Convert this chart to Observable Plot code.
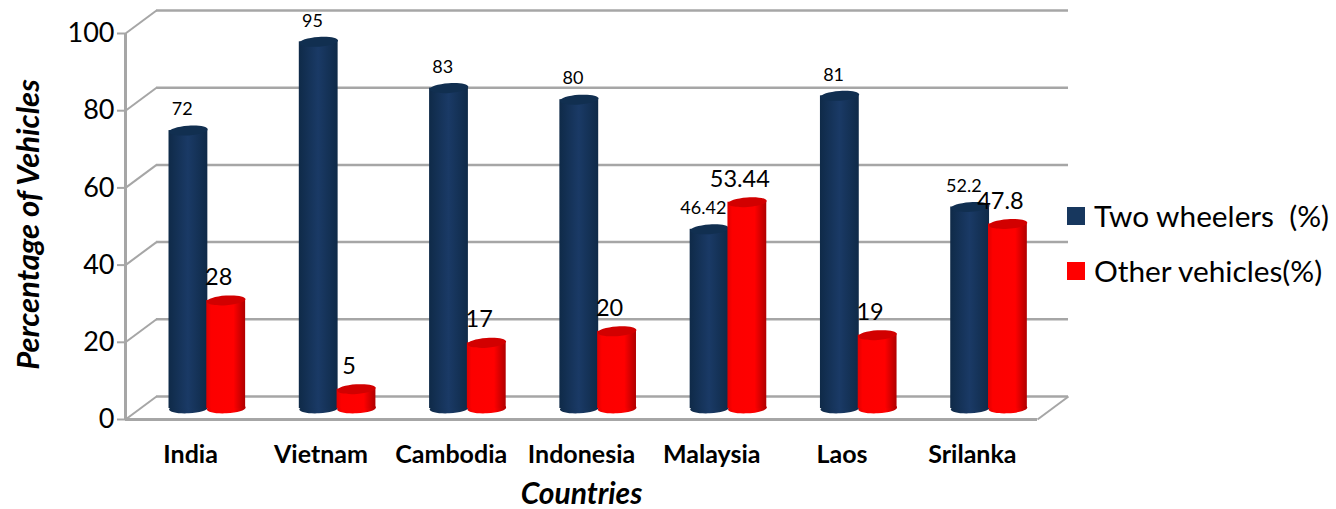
<!DOCTYPE html>
<html><head><meta charset="utf-8">
<script src="https://cdn.jsdelivr.net/npm/d3@7"></script>
<script src="https://cdn.jsdelivr.net/npm/@observablehq/plot@0.6"></script>
<style>
html,body{margin:0;padding:0;background:#fff;overflow:hidden}
#wrap{position:relative;width:1336px;height:509px;font-family:Lato,sans-serif}
.lg{position:absolute;left:1067px;display:flex;align-items:center;font-size:29.8px;color:#000;white-space:pre;line-height:30px}
.lg i{display:block;width:18px;height:18px;margin-right:9px}
</style></head><body><div id="wrap"></div>
<script>
const countries = ["India","Vietnam","Cambodia","Indonesia","Malaysia","Laos","Srilanka"];
const twoWheelers = [72,95,83,80,46.42,81,52.2];
const otherVehicles = [28,5,17,20,53.44,19,47.8];
const twoLabel = "Two wheelers  (%)";
const otherLabel = "Other vehicles(%)";
const yTicks = [0,20,40,60,80,100];

const indexes = countries.map((_, i) => i);
const depthX = 0.238, depthY = 5.96;
const halfW = 0.149, liftY = -11;
const gridColor = "#a6a6a6";

const ellipse = {draw(ctx, size){
  const rx = Math.sqrt(size/Math.PI), ry = rx*0.25, k = 0.5523;
  ctx.moveTo(-rx,0);
  ctx.bezierCurveTo(-rx,-ry*k,-rx*k,-ry,0,-ry);
  ctx.bezierCurveTo(rx*k,-ry,rx,-ry*k,rx,0);
  ctx.bezierCurveTo(rx,ry*k,rx*k,ry,0,ry);
  ctx.bezierCurveTo(-rx*k,ry,-rx,ry*k,-rx,0);
  ctx.closePath();
}};

function cylinder(values, offset, body, top){
  const x = i => i + offset;
  return [
    Plot.dot(indexes,{x, y:()=>0, r:19.4, symbol:ellipse, rotate:-3, fill:body, stroke:null, dy:liftY}),
    Plot.rect(indexes,{x1:i=>x(i)-halfW, x2:i=>x(i)+halfW, y1:()=>0, y2:i=>values[i], fill:body, dy:liftY}),
    Plot.dot(indexes,{x, y:i=>values[i], r:19.4, symbol:ellipse, rotate:-4, fill:top, stroke:null, dy:liftY})
  ];
}

const chart = Plot.plot({
  width:1336, height:509,
  marginLeft:125, marginRight:299, marginTop:33, marginBottom:90,
  style:{fontFamily:"Lato, sans-serif", background:"#fff", color:"#000", overflow:"visible"},
  x:{domain:[-0.5,6.5], label:null},
  y:{domain:[0,100], label:null},
  marks:[
    Plot.ruleY(yTicks,{x1:-0.5+depthX, x2:6.5+depthX, y:d=>d+depthY, stroke:gridColor, strokeWidth:2.5}),
    Plot.link(yTicks,{x1:-0.5, y1:d=>d, x2:-0.5+depthX, y2:d=>d+depthY, stroke:gridColor, strokeWidth:2}),
    Plot.link([0],{x1:6.5, y1:0, x2:6.5+depthX, y2:depthY, stroke:gridColor, strokeWidth:2}),
    Plot.ruleY([0],{x1:-0.5, x2:6.5, stroke:gridColor, strokeWidth:3}),
    Plot.ruleX([-0.5],{y1:0, y2:100, stroke:gridColor, strokeWidth:3}),
    Plot.axisY({ticks:yTicks, tickSize:8, tickPadding:3, stroke:gridColor, strokeWidth:2, fill:"#000", fontSize:27, label:null}),
    Plot.axisX({ticks:indexes, tickFormat:i=>countries[i], tickSize:0, tickPadding:25.5, fontSize:25, fontWeight:"bold", fill:"#000", label:null}),
    ...cylinder(twoWheelers,-0.017,"url(#gBlue)","#112f50"),
    ...cylinder(otherVehicles,0.273,"url(#gRed)","#d20000"),
    Plot.text(indexes,{x:i=>i-0.065, y:i=>twoWheelers[i], text:i=>String(twoWheelers[i]), dy:-32, fontSize:18, fill:"#000"}),
    Plot.text(indexes,{x:i=>i+0.215, y:i=>otherVehicles[i], text:i=>String(otherVehicles[i]), dy:-34, fontSize:23.5, fill:"#000"}),
    Plot.text(["Percentage of Vehicles"],{frameAnchor:"left", textAnchor:"middle", rotate:-90, dx:-96, dy:-2, fontSize:31, fontWeight:"bold", fontStyle:"italic", fill:"#000"}),
    Plot.text(["Countries"],{frameAnchor:"bottom", dy:84.5, fontSize:30, fontWeight:"bold", fontStyle:"italic", fill:"#000"})
  ]
});
d3.select(chart).insert("defs",":first-child").html(`
  <linearGradient id="gBlue"><stop offset="0" stop-color="#0f2a48"/><stop offset=".5" stop-color="#1a3a66"/><stop offset="1" stop-color="#0f2a48"/></linearGradient>
  <linearGradient id="gRed"><stop offset="0" stop-color="#e00000"/><stop offset=".12" stop-color="#fc0000"/><stop offset=".7" stop-color="#ff0000"/><stop offset="1" stop-color="#b00000"/></linearGradient>`);
const wrap = document.getElementById("wrap");
wrap.appendChild(chart);
[[twoLabel,"#17375e",201],[otherLabel,"#ff0000",256]].forEach(([t,c,top])=>{
  const d = document.createElement("div");
  d.className = "lg"; d.style.top = top+"px";
  const sw = document.createElement("i"); sw.style.background = c;
  d.appendChild(sw); d.appendChild(document.createTextNode(t));
  wrap.appendChild(d);
});
</script></body></html>
